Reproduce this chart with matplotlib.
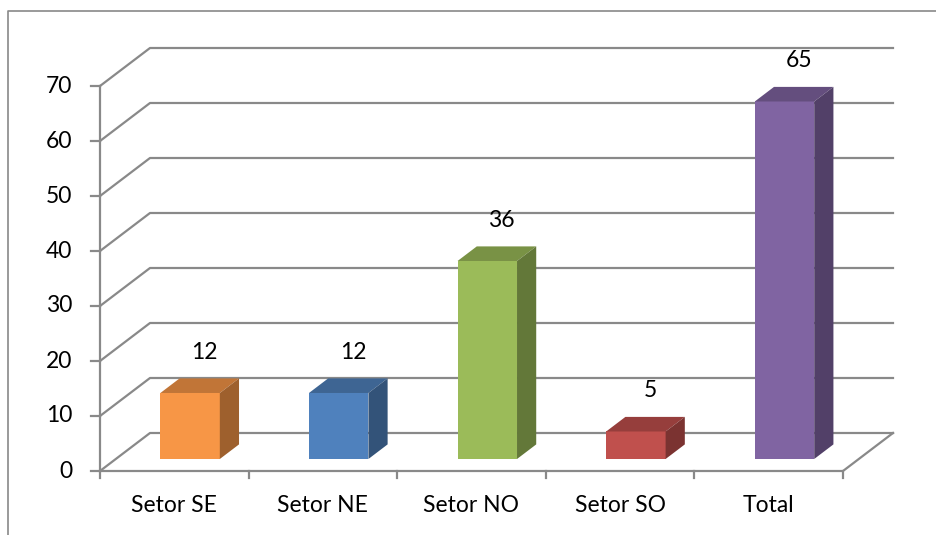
import matplotlib
matplotlib.use('Agg')
import matplotlib.pyplot as plt
from matplotlib.patches import Polygon
from matplotlib.colors import to_rgb

categories = ['Setor SE', 'Setor NE', 'Setor NO', 'Setor SO', 'Total']
values = [12, 12, 36, 5, 65]
colors = ['#F79646', '#4F81BD', '#9BBB59', '#C0504D', '#8064A2']
yticks = [0, 10, 20, 30, 40, 50, 60, 70]

plt.rcParams['font.family'] = ['Lato', 'DejaVu Sans']

# pixel layout of the Excel-style 3D box
PX_CAT = 148.6      # px per category
PX_VAL = 5.5        # px per unit
X0, Y0 = 100, 471   # front origin in px
DX = 50 / PX_CAT    # depth offset in category units
DY = 38 / PX_VAL    # depth offset in value units
GRID = '#898989'

W, H = 937, 535
fig = plt.figure(figsize=(W / 100, H / 100), dpi=100)
ax = fig.add_axes([0, 0, 1, 1])
ax.set_xlim(-X0 / PX_CAT, (W - X0) / PX_CAT)
ax.set_ylim((Y0 - H) / PX_VAL, Y0 / PX_VAL)
ax.axis('off')


def proj(x, v, d):
    return (x + d * DX, v + d * DY)


def shade(c, f):
    r, g, b = to_rgb(c)
    return (r * f, g * f, b * f)


n = len(categories)
ymax = yticks[-1]

# outer chart frame (left and top edges visible)
fx = (8 - X0) / PX_CAT
fy = (Y0 - 11) / PX_VAL
ax.plot([fx, fx, (W - X0) / PX_CAT], [(Y0 - H) / PX_VAL, fy, fy], color=GRID, lw=1.2)

# wall gridlines
for v in yticks:
    xs, ys = zip(proj(0, v, 0), proj(0, v, 1), proj(n, v, 1))
    ax.plot(xs, ys, color=GRID, lw=1.6, zorder=1)

# floor and front axes
ax.plot([0, n, n + DX], [0, 0, DY], color=GRID, lw=1.6, zorder=1)
ax.plot([0, 0], [0, ymax], color=GRID, lw=1.6, zorder=1)
for v in yticks:
    ax.plot([-9 / PX_CAT, 0], [v, v], color=GRID, lw=1.6)
    ax.text(-28 / PX_CAT, v, str(v), ha='right', va='center', fontsize=16.5)
for i in range(n + 1):
    ax.plot([i, i], [0, -7 / PX_VAL], color=GRID, lw=1.6)

# bars
w = 0.40
d0, d1 = 0.316, 0.70
for i, (cat, v, col) in enumerate(zip(categories, values, colors)):
    c = i + 0.5
    l, r = c - w / 2, c + w / 2
    front = [proj(l, 0, d0), proj(r, 0, d0), proj(r, v, d0), proj(l, v, d0)]
    top = [proj(l, v, d0), proj(r, v, d0), proj(r, v, d1), proj(l, v, d1)]
    side = [proj(r, 0, d0), proj(r, 0, d1), proj(r, v, d1), proj(r, v, d0)]
    ax.add_patch(Polygon(front, closed=True, fc=col, ec='none', zorder=3))
    ax.add_patch(Polygon(top, closed=True, fc=shade(col, 0.78), ec='none', zorder=3))
    ax.add_patch(Polygon(side, closed=True, fc=shade(col, 0.64), ec='none', zorder=3))
    lx, ly = proj(c, v, 0.6)
    ax.text(lx, ly + 30 / PX_VAL, str(v), ha='center', va='center', fontsize=16.5, zorder=4)
    ax.text(c, -35 / PX_VAL, cat, ha='center', va='center', fontsize=16.5)

fig.savefig('out.png', dpi=100)
